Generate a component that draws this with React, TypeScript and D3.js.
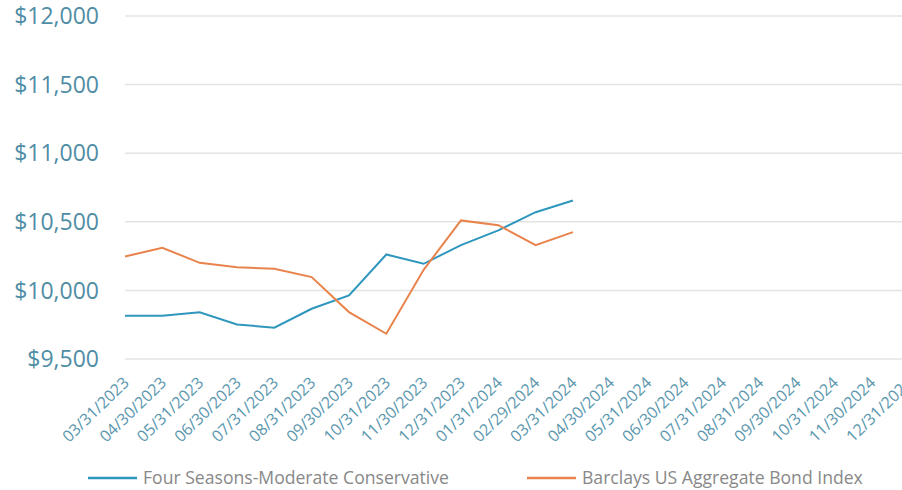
import React from "react";
import * as d3 from "d3";

const categories = [
  "03/31/2023", "04/30/2023", "05/31/2023", "06/30/2023", "07/31/2023", "08/31/2023",
  "09/30/2023", "10/31/2023", "11/30/2023", "12/31/2023", "01/31/2024", "02/29/2024",
  "03/31/2024", "04/30/2024", "05/31/2024", "06/30/2024", "07/31/2024", "08/31/2024",
  "09/30/2024", "10/31/2024", "11/30/2024", "12/31/2024",
];
const fourSeasons = [9816, 9816, 9840, 9752, 9728, 9866, 9964, 10262, 10194, 10330, 10437, 10570, 10655];
const barclays = [10247, 10311, 10201, 10169, 10158, 10097, 9842, 9684, 10150, 10510, 10475, 10330, 10425];
const yTicks = [9500, 10000, 10500, 11000, 11500, 12000];
const seriesNames = ["Four Seasons-Moderate Conservative", "Barclays US Aggregate Bond Index"];
const seriesColors = ["#2f97bd", "#e8834c"];

const W = 902;
const H = 490;

export default function App() {
  const x = d3.scalePoint<string>().domain(categories).range([125, 125 + 21 * 37.33]);
  const y = d3.scaleLinear().domain([9500, 12000]).range([359, 16]);
  const fmt = d3.format("$,.0f");
  const line = d3
    .line<number>()
    .x((_, i) => x(categories[i]) as number)
    .y((d) => y(d));
  const series = [fourSeasons, barclays];
  const legendX = [88, 527];

  return (
    <div style={{ position: "absolute", left: 0, top: 0 }}>
      <svg width={W} height={H} style={{ display: "block", fontFamily: "'Open Sans', sans-serif" }}>
        {yTicks.map((t) => (
          <g key={t}>
            <line x1={125} x2={W} y1={y(t)} y2={y(t)} stroke="#e4e4e4" strokeWidth={1.5} />
            <text x={99} y={y(t)} dy="0.36em" textAnchor="end" fontSize={23} fill="#4f8da5">
              {fmt(t)}
            </text>
          </g>
        ))}
        {categories.map((c) => {
          const cx = (x(c) as number) + 5;
          const cy = 384;
          return (
            <text
              key={c}
              x={cx}
              y={cy}
              textAnchor="end"
              fontSize={16}
              fill="#5b97ae"
              transform={`rotate(-44 ${cx} ${cy})`}
            >
              {c}
            </text>
          );
        })}
        {series.map((s, i) => (
          <path key={i} d={line(s) || ""} fill="none" stroke={seriesColors[i]} strokeWidth={2} />
        ))}
        {seriesNames.map((n, i) => (
          <g key={n}>
            <line x1={legendX[i]} x2={legendX[i] + 49} y1={478} y2={478} stroke={seriesColors[i]} strokeWidth={2.5} />
            <text x={legendX[i] + 55} y={478} dy="0.35em" fontSize={17.6} fill="#888888">
              {n}
            </text>
          </g>
        ))}
      </svg>
    </div>
  );
}
